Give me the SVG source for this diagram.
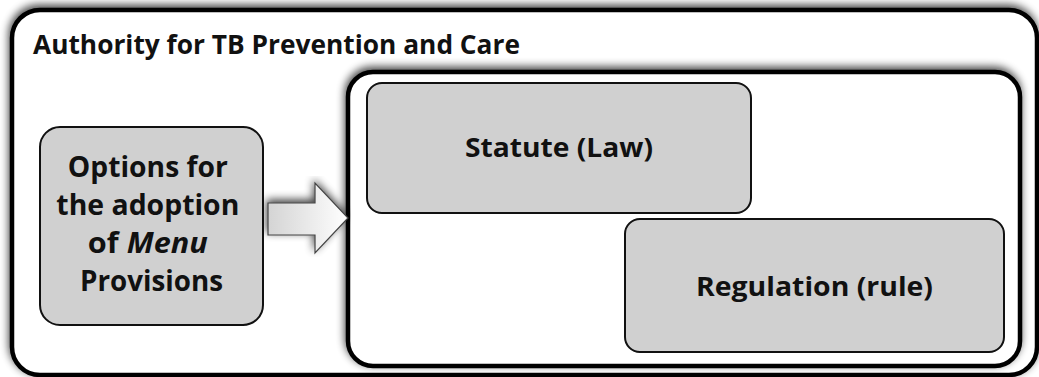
<svg xmlns="http://www.w3.org/2000/svg" width="1039" height="377" viewBox="0 0 1039 377">
<style>
.t{font-family:"Open Sans","Noto Sans","Liberation Sans",sans-serif;font-weight:bold;fill:#111;}
.box{fill:#d0d0d0;stroke:#111;stroke-width:2;}
.frame{fill:#fff;stroke:#000;stroke-width:4.5;}
</style>
<defs>
<filter id="sh" x="-5%" y="-10%" width="110%" height="120%">
<feGaussianBlur in="SourceAlpha" stdDeviation="4"/>
<feOffset dx="-1" dy="-3" result="b"/>
<feComponentTransfer><feFuncA type="linear" slope="0.75"/></feComponentTransfer>
<feMerge><feMergeNode/><feMergeNode in="SourceGraphic"/></feMerge>
</filter>
<linearGradient id="ag" x1="0" y1="0" x2="1" y2="0">
<stop offset="0" stop-color="#d4d4d4"/>
<stop offset="1" stop-color="#ffffff"/>
</linearGradient>
</defs>
<g id="authority">
<rect class="frame" x="12" y="10" width="1025" height="365" rx="28" filter="url(#sh)"/>
<text class="t" x="33" y="54" font-size="27.5" textLength="487" lengthAdjust="spacingAndGlyphs">Authority for TB Prevention and Care</text>
</g>
<g id="forms">
<rect class="frame" x="348" y="72" width="672" height="294" rx="25" filter="url(#sh)"/>
</g>
<g id="options">
<rect class="box" x="40" y="127" width="223" height="198" rx="20"/>
<text class="t" font-size="28" text-anchor="middle">
<tspan x="151.5" y="177" textLength="160" lengthAdjust="spacingAndGlyphs">Options for</tspan>
<tspan x="151.5" y="215" textLength="183" lengthAdjust="spacingAndGlyphs">the adoption</tspan>
<tspan x="151.5" y="253" textLength="120" lengthAdjust="spacingAndGlyphs">of <tspan font-style="italic">Menu</tspan></tspan>
<tspan x="151.5" y="291" textLength="143" lengthAdjust="spacingAndGlyphs">Provisions</tspan>
</text>
</g>
<g id="statute">
<rect class="box" x="367" y="83" width="384" height="130" rx="15"/>
<text class="t" x="559" y="157" font-size="27" text-anchor="middle" textLength="188" lengthAdjust="spacingAndGlyphs">Statute (Law)</text>
</g>
<g id="regulation">
<rect class="box" x="625" y="219" width="379" height="133" rx="15"/>
<text class="t" x="814.5" y="296" font-size="27" text-anchor="middle" textLength="237" lengthAdjust="spacingAndGlyphs">Regulation (rule)</text>
</g>
<g id="connectors">
<path d="M268,203 L315,203 L315,183 L348,218 L315,253 L315,235 L268,235 Z" fill="url(#ag)" stroke="#444" stroke-width="1.2" filter="url(#sh)"/>
</g>
</svg>
